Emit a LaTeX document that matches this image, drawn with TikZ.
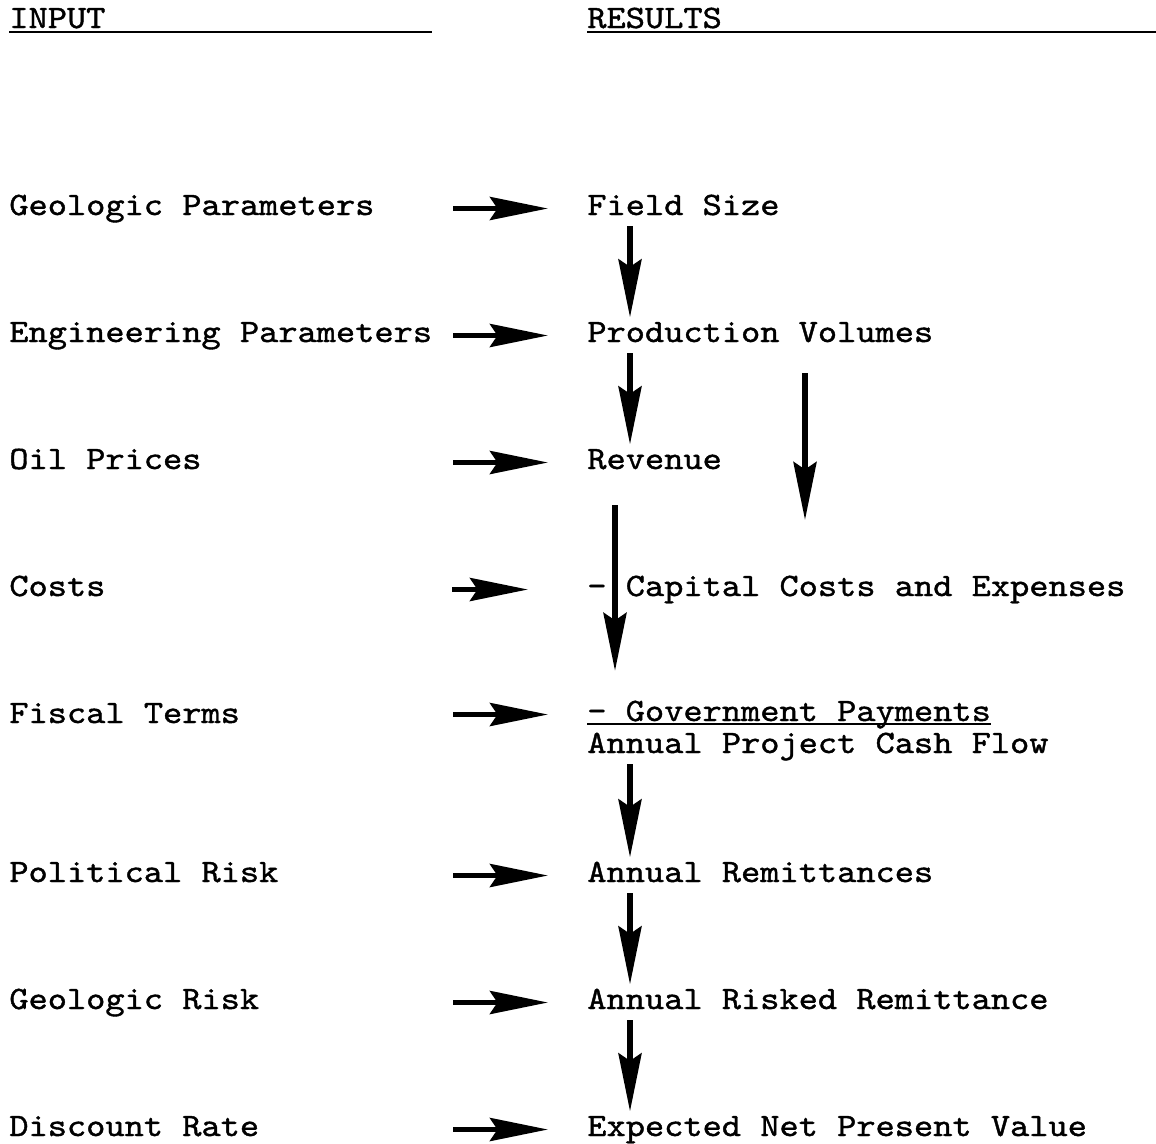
\documentclass[tikz,border=0pt]{standalone}
\usepackage{fontspec}
\newfontfamily\typewriter{lmmono10-regular.otf}[FakeStretch=1.12, FakeBold=1.2]
\usetikzlibrary{arrows.meta}

\begin{document}
\begin{tikzpicture}[x=0.02cm, y=-0.02cm,
  every node/.style={font=\typewriter\fontsize{18.6}{22}\selectfont, inner sep=0pt,
    anchor=base west, text height=0.366cm, text depth=0.106cm},
  bigarrow/.style={line width=0.11cm, -{Stealth[length=1.16cm, width=0.46cm, inset=0.15cm]}},
  rule/.style={line width=0.04cm}]

  \useasboundingbox (0,0) rectangle (1156,1143);

  % Headings
  \node (inhead) at (9,28) {INPUT};
  \node (reshead) at (587,28) {RESULTS};
  \draw[rule] (inhead.base west) ++(0,4) -- ++(423,0);
  \draw[rule] (reshead.base west) ++(0,4) -- ++(569,0);

  % Input column
  \node (geo) at (9,215) {Geologic Parameters};
  \node (eng) at (9,342) {Engineering Parameters};
  \node (oil) at (9,469) {Oil Prices};
  \node (costs) at (9,596) {Costs};
  \node (fiscal) at (9,723) {Fiscal Terms};
  \node (polrisk) at (9,882) {Political Risk};
  \node (georisk) at (9,1009) {Geologic Risk};
  \node (disc) at (9,1136) {Discount Rate};

  % Results column
  \node (field) at (587,215) {Field Size};
  \node (prod) at (587,342) {Production Volumes};
  \node (rev) at (587,469) {Revenue};
  \node (capex) at (587,596) {- Capital Costs and Expenses};
  \node (gov) at (587,721) {- Government Payments};
  \node (cash) at (587,753) {Annual Project Cash Flow};
  \node (remit) at (587,882) {Annual Remittances};
  \node (risked) at (587,1009) {Annual Risked Remittance};
  \node (npv) at (587,1136) {Expected Net Present Value};
  \draw[line width=0.03cm] ([yshift=-0.06cm]gov.base west) -- ([yshift=-0.06cm]gov.base east);

  % Input -> result arrows
  \foreach \res in {field, prod, rev, gov, remit, risked, npv}
    \draw[bigarrow] ([xshift=-2.68cm]\res.west) -- ([xshift=-0.78cm]\res.west);
  \draw[bigarrow] ([xshift=-2.7cm]capex.west) -- ([xshift=-1.18cm]capex.west);

  % Result chain
  \coordinate (vx) at (630,0);
  \coordinate (capx) at (615,0);
  \coordinate (volx) at (805,0);
  \coordinate (volend) at (805,520);
  \foreach \a/\b in {field/prod, prod/rev, cash/remit, remit/risked, risked/npv}
    \draw[bigarrow, shorten <=0.11cm, shorten >=0.12cm] (vx |- \a.south) -- (vx |- \b.north);
  \draw[bigarrow, shorten <=0.61cm, shorten >=0.63cm] (capx |- rev.south) -- (capx |- gov.north);
  \draw[bigarrow, shorten <=0.51cm] (volx |- prod.south) -- (volend);

\end{tikzpicture}
\end{document}
